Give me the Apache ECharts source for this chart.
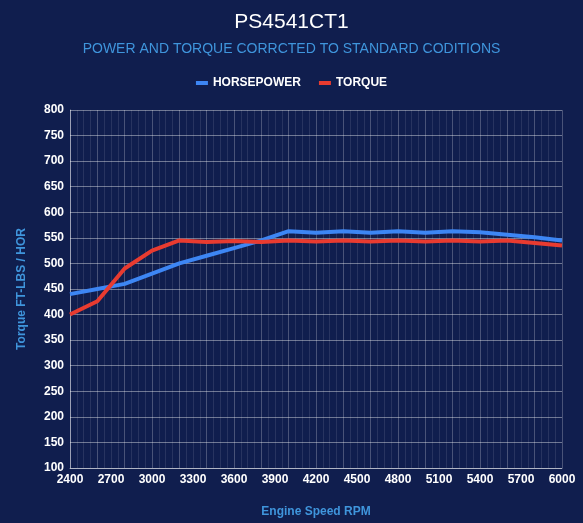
<!DOCTYPE html>
<html>
<head>
<meta charset="utf-8">
<script src="https://cdn.jsdelivr.net/npm/echarts@6/dist/echarts.min.js"></script>
<style>
  html, body { margin: 0; padding: 0; background: #101e4e; }
  #chart { width: 583px; height: 523px; }
</style>
</head>
<body>
<div id="chart"></div>
<script>
// dyno readings, every 200 rpm
var rpm = [2400, 2600, 2800, 3000, 3200, 3400, 3600, 3800, 4000, 4200, 4400,
           4600, 4800, 5000, 5200, 5400, 5600, 5800, 6000];
var horsepower = [440, 450, 460, 480, 500, 515, 530, 545, 563, 560, 563,
                  560, 563, 560, 563, 561, 556, 551, 545];
var torque = [400, 426, 490, 525, 545, 542, 544, 542, 545, 543, 545,
              543, 545, 543, 545, 543, 545, 540, 535];

function pairs(xs, ys) {
  return xs.map(function (x, i) { return [x, ys[i]]; });
}

var chart = echarts.init(document.getElementById("chart"));

var labelFont = "Liberation Sans, Arial, sans-serif";

var option = {
  backgroundColor: "#101e4e",
  title: {
    text: "PS4541CT1",
    subtext: "POWER AND TORQUE CORRCTED TO STANDARD CODITIONS",
    left: "center",
    top: 7,
    itemGap: 9,
    textStyle: { color: "#ffffff", fontSize: 21, fontWeight: "normal", fontFamily: labelFont },
    subtextStyle: { color: "#3f95dc", fontSize: 14, fontFamily: labelFont },
  },
  legend: {
    data: ["HORSEPOWER", "TORQUE"],
    top: 72,
    left: "center",
    icon: "rect",
    itemWidth: 12,
    itemHeight: 4,
    itemGap: 18,
    textStyle: { color: "#ffffff", fontSize: 12, fontWeight: "bold", fontFamily: labelFont },
  },
  grid: { left: 70, right: 21, top: 110, bottom: 53, containLabel: false },
  xAxis: {
    type: "value",
    min: 2400,
    max: 6000,
    interval: 50,
    name: "Engine Speed RPM",
    nameLocation: "middle",
    nameGap: 38,
    nameTextStyle: { color: "#3f95dc", fontSize: 12, fontWeight: "bold", fontFamily: labelFont },
    axisLine: { show: true, lineStyle: { color: "rgba(255,255,255,0.45)", width: 1 } },
    axisTick: { show: false },
    axisLabel: {
      color: "#ffffff",
      fontSize: 12,
      fontWeight: "bold",
      fontFamily: labelFont,
      margin: 6,
      formatter: function (v) { return v % 300 === 0 ? String(v) : ""; },
    },
    splitLine: {
      show: true,
      lineStyle: {
        // brighter line at each reading (every 200 rpm), faint ones between
        color: ["rgba(255,255,255,0.24)", "rgba(255,255,255,0.1)",
                "rgba(255,255,255,0.1)", "rgba(255,255,255,0.1)"],
        width: 1,
      },
    },
  },
  yAxis: {
    type: "value",
    min: 100,
    max: 800,
    interval: 50,
    name: "Torque FT-LBS / HOR",
    nameLocation: "middle",
    nameGap: 42,
    nameTextStyle: { color: "#3f95dc", fontSize: 12, fontWeight: "bold", fontFamily: labelFont },
    axisLine: { show: true, lineStyle: { color: "rgba(255,255,255,0.45)", width: 1 } },
    axisTick: { show: false },
    axisLabel: { color: "#ffffff", fontSize: 12, fontWeight: "bold", fontFamily: labelFont, margin: 6 },
    splitLine: { show: true, lineStyle: { color: "rgba(255,255,255,0.4)", width: 1 } },
  },
  series: [
    {
      name: "HORSEPOWER",
      type: "line",
      data: pairs(rpm, horsepower),
      symbol: "none",
      color: "#3d86f4",
      lineStyle: { color: "#3d86f4", width: 4 },
    },
    {
      name: "TORQUE",
      type: "line",
      data: pairs(rpm, torque),
      symbol: "none",
      color: "#e83b30",
      lineStyle: { color: "#e83b30", width: 4 },
    },
  ],
};

chart.setOption(option);
</script>
</body>
</html>
